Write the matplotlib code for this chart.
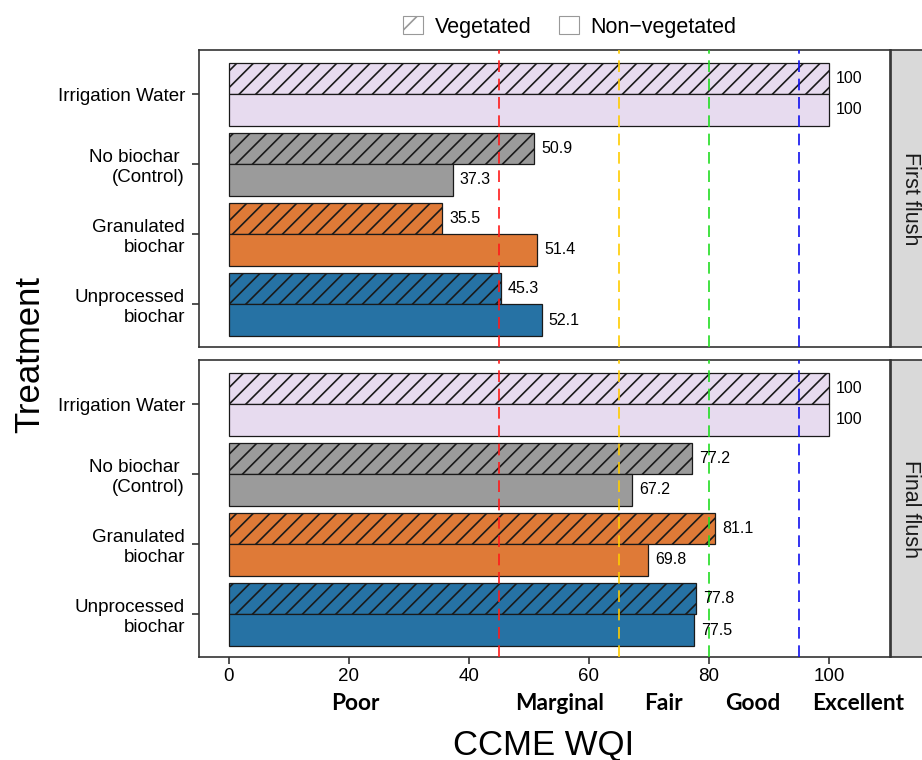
import matplotlib
matplotlib.use("Agg")
import matplotlib.pyplot as plt
from matplotlib.patches import Patch
import matplotlib.transforms as mtransforms

plt.rcParams['font.family'] = ['Liberation Sans', 'DejaVu Sans']
plt.rcParams['hatch.color'] = '#222222'
plt.rcParams['hatch.linewidth'] = 1.2

treatments = ["Irrigation Water", "No biochar \n(Control)", "Granulated\nbiochar", "Unprocessed\nbiochar"]
colors = ["#E7DBEF", "#9B9B9B", "#DF7A37", "#2672A4"]
first_veg = [100, 50.9, 35.5, 45.3]
first_nonveg = [100, 37.3, 51.4, 52.1]
final_veg = [100, 77.2, 81.1, 77.8]
final_nonveg = [100, 67.2, 69.8, 77.5]
panels = ["First flush", "Final flush"]
thresholds = [45, 65, 80, 95]
threshold_colors = ["#FF1A1A", "#FFCC00", "#22DD22", "#1010EE"]
xticks = [0, 20, 40, 60, 80, 100]
classes = ["Poor", "Marginal", "Fair", "Good", "Excellent"]
class_pos = [21, 55.1, 72.4, 87.3, 104.9]

W, H = 922, 760
fig = plt.figure(figsize=(W / 100, H / 100), dpi=100)

def frac(l, t, r, b):
    return [l / W, 1 - b / H, (r - l) / W, (b - t) / H]

panel_boxes = [(199, 50, 890, 347), (199, 360, 890, 657)]
data = [(first_veg, first_nonveg), (final_veg, final_nonveg)]
ypos = [4, 3, 2, 1]
bh = 0.45
edge = '#333333'

axes = []
for pi, (box, (veg, nonveg)) in enumerate(zip(panel_boxes, data)):
    ax = fig.add_axes(frac(*box))
    axes.append(ax)
    for i, y in enumerate(ypos):
        ax.barh(y + bh / 2, veg[i], height=bh, color=colors[i], edgecolor='#1a1a1a',
                linewidth=0.9, hatch='//', zorder=2)
        ax.barh(y - bh / 2, nonveg[i], height=bh, color=colors[i], edgecolor='#1a1a1a',
                linewidth=0.9, zorder=2)
        ax.text(veg[i] + 1.2, y + bh / 2, f"{veg[i]:g}", va='center', ha='left', fontsize=11.5, zorder=4)
        ax.text(nonveg[i] + 1.2, y - bh / 2, f"{nonveg[i]:g}", va='center', ha='left', fontsize=11.5, zorder=4)
    for t, c in zip(thresholds, threshold_colors):
        ax.axvline(t, color=c, linewidth=1.2, dashes=(7, 4), zorder=3)
    ax.set_xlim(-5, 110.2)
    ax.set_ylim(0.39, 4.63)
    ax.set_yticks(ypos)
    ax.set_yticklabels(treatments, fontsize=13.5)
    ax.set_xticks(xticks)
    for s in ax.spines.values():
        s.set_color(edge)
        s.set_linewidth(1.2)
    ax.tick_params(axis='y', length=5, width=1.2, color=edge, pad=5)
    ax.tick_params(axis='x', length=5, width=1.2, color=edge, pad=3, labelsize=13.5)
    if pi == 0:
        ax.tick_params(axis='x', bottom=False, labelbottom=False)
    # strip
    sl, st, sr, sb = 891, box[1], 935, box[3]
    sax = fig.add_axes(frac(sl, st, sr, sb))
    sax.set_facecolor('#D9D9D9')
    sax.set_xticks([])
    sax.set_yticks([])
    for s in sax.spines.values():
        s.set_color(edge)
        s.set_linewidth(1.2)
    sax.text(19 / 44, 0.5, panels[pi], rotation=-90, ha='center', va='center',
             fontsize=15.5, color='#1a1a1a', transform=sax.transAxes)

axb = axes[1]
trans = mtransforms.blended_transform_factory(axb.transData, fig.transFigure)
for name, xp in zip(classes, class_pos):
    axb.text(xp, 1 - 703 / H, name, transform=trans, ha='center', va='center',
             fontsize=16.3, fontweight='bold', family=['Lato', 'DejaVu Sans'], clip_on=False)

fig.text(544 / W, 1 - 745 / H, "CCME WQI", ha='center', va='center', fontsize=25)
fig.text(30 / W, 1 - 355 / H, "Treatment", ha='center', va='center', fontsize=25, rotation=90)

handles = [Patch(facecolor='white', edgecolor='#999999', hatch='/', linewidth=0.8, label='Vegetated'),
           Patch(facecolor='white', edgecolor='#999999', linewidth=0.8, label='Non-vegetated')]
fig.legend(handles=handles, labels=['Vegetated', 'Non\u2212vegetated'], loc='center',
           bbox_to_anchor=(570 / W, 1 - 27 / H), ncol=2, frameon=False, fontsize=15.5,
           handlelength=0.9, handleheight=0.9, handletextpad=0.55, columnspacing=1.3,
           borderpad=0, borderaxespad=0)

fig.savefig("out.png", dpi=100, facecolor='white')
